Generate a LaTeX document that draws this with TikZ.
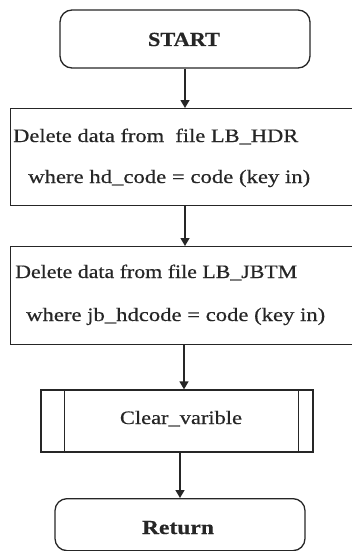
\documentclass[tikz,border=0pt]{standalone}
\usepackage{graphicx}
\usepackage{fontspec}
\setmainfont[FakeBold=0.5]{Liberation Serif}
\usetikzlibrary{arrows.meta}
\definecolor{ink}{HTML}{262626}
\newcommand{\fitw}[2]{\resizebox{#1}{\height}{#2}}
\tikzset{
  frame/.style={draw=ink, line width=1.3pt, inner sep=0pt},
  term/.style={frame, rounded corners=12pt},
  txt/.style={inner sep=0pt, text=ink, font=\fontsize{19}{22}\selectfont},
  btxt/.style={inner sep=0pt, text=ink, font=\fontsize{20}{22}\selectfont\bfseries},
  flow/.style={draw=ink, line width=1.4pt, -{Triangle[width=9pt,length=8pt]}}
}
\begin{document}
\begin{tikzpicture}[x=1pt,y=-1pt]
\useasboundingbox (0,0) rectangle (352,551);
\clip (0,0) rectangle (352,551);
% START
\node[term, minimum width=250pt, minimum height=58pt] (start) at (185,39) {};
\node[btxt, anchor=base] (starttxt) at (184,46) {\fitw{72pt}{START}};
% Box 1
\node[frame, anchor=north west, minimum width=370pt, minimum height=97pt] (b1) at (10,108) {};
\node[txt, anchor=base west] (b1a) at (13,142) {\fitw{285pt}{Delete data from\ \ file LB\_HDR}};
\node[txt, anchor=base west] (b1b) at (28,183) {\fitw{282pt}{where hd\_code = code (key in)}};
% Box 2
\node[frame, anchor=north west, minimum width=370pt, minimum height=98pt] (b2) at (10,246) {};
\node[txt, anchor=base west] (b2a) at (15,278) {\fitw{282pt}{Delete data from file LB\_JBTM}};
\node[txt, anchor=base west] (b2b) at (26,321) {\fitw{299pt}{where jb\_hdcode = code (key in)}};
% Clear_varible
\node[frame, minimum width=272pt, minimum height=62pt] (cv) at (177,421) {};
\draw[draw=ink, line width=1.1pt] ([xshift=24pt]cv.north west) -- ([xshift=24pt]cv.south west);
\draw[draw=ink, line width=1.1pt] ([xshift=-15pt]cv.north east) -- ([xshift=-15pt]cv.south east);
\node[txt, anchor=base] (cvt) at (181,424) {\fitw{122pt}{Clear\_varible}};
% Return
\node[term, anchor=north, minimum width=250pt, minimum height=52pt] (ret) at (180,498) {};
\node[btxt, anchor=base] (rett) at (178,534) {\fitw{72pt}{Return}};
% connectors
\draw[flow] (start.south -| 185,0) -- (b1.north -| 185,0);
\draw[flow] (b1.south -| 185,0) -- (b2.north -| 185,0);
\draw[flow] (b2.south -| 184,0) -- (cv.north -| 184,0);
\draw[flow] (cv.south -| 180,0) -- (ret.north -| 180,0);
\end{tikzpicture}
\end{document}
